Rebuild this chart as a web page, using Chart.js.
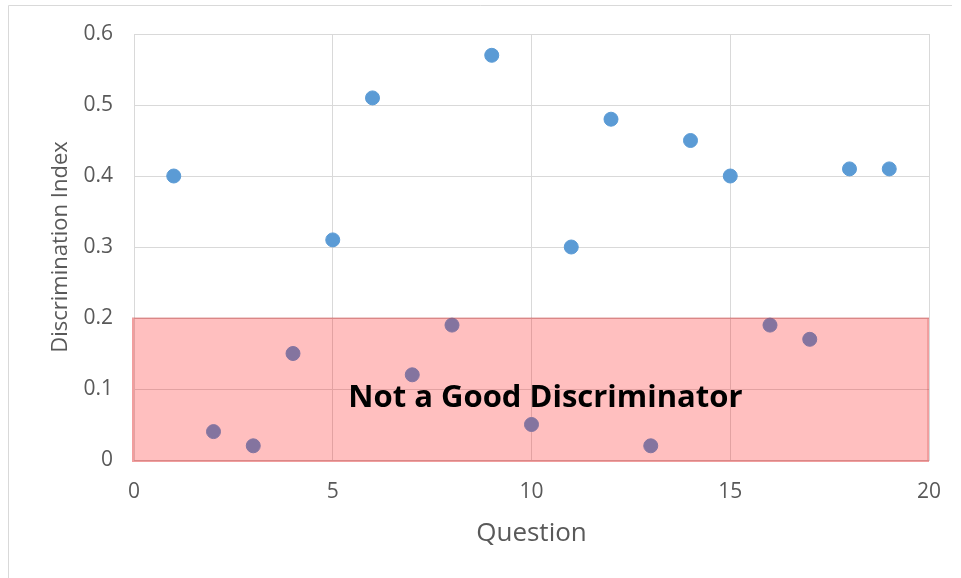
<!DOCTYPE html>
<html>
<head>
<meta charset="utf-8">
<script src="https://cdn.jsdelivr.net/npm/chart.js@4/dist/chart.umd.min.js"></script>
<style>
  html, body { margin: 0; padding: 0; background: #fff; }
  #wrap { width: 961px; height: 578px; position: relative; }
</style>
</head>
<body>
<div id="wrap"><canvas id="c" width="961" height="578"></canvas></div>
<script>
// Question number and its discrimination index
const questions = [1, 2, 3, 4, 5, 6, 7, 8, 9, 10, 11, 12, 13, 14, 15, 16, 17, 18, 19];
const discrimination = [0.40, 0.04, 0.02, 0.15, 0.31, 0.51, 0.12, 0.19, 0.57, 0.05, 0.30, 0.48, 0.02, 0.45, 0.40, 0.19, 0.17, 0.41, 0.41];

// Band of weak discriminators
const weakBand = { xMin: 0, xMax: 20, yMin: 0, yMax: 0.2 };
const weakLabel = 'Not a Good Discriminator';

const points = questions.map((q, i) => ({ x: q, y: discrimination[i] }));

const FONT = '"Open Sans", "Noto Sans", "DejaVu Sans", sans-serif';
const GRID = '#D9D9D9';

// Light frame around the chart
const framePlugin = {
  id: 'frame',
  beforeDraw(chart) {
    const ctx = chart.ctx;
    ctx.save();
    ctx.strokeStyle = GRID;
    ctx.lineWidth = 1;
    ctx.beginPath();
    ctx.moveTo(8.5, chart.height);
    ctx.lineTo(8.5, 5.5);
    ctx.lineTo(952, 5.5);
    ctx.stroke();
    ctx.restore();
  }
};

// Translucent red band drawn over the points, with its caption
const bandPlugin = {
  id: 'band',
  afterDatasetsDraw(chart) {
    const { ctx, scales: { x, y } } = chart;
    const left = x.getPixelForValue(weakBand.xMin);
    const right = x.getPixelForValue(weakBand.xMax);
    const top = y.getPixelForValue(weakBand.yMax);
    const bottom = y.getPixelForValue(weakBand.yMin);
    ctx.save();
    ctx.fillStyle = 'rgba(255, 0, 0, 0.25)';
    ctx.fillRect(left - 2, top, right - left + 2, bottom - top + 2);
    ctx.strokeStyle = 'rgba(190, 40, 40, 0.22)';
    ctx.lineWidth = 2;
    ctx.strokeRect(left - 1, top, right - left, bottom - top + 1);
    ctx.fillStyle = '#000';
    ctx.font = 'bold 31px ' + FONT;
    ctx.textAlign = 'center';
    ctx.textBaseline = 'middle';
    ctx.fillText(weakLabel, x.getPixelForValue(10.35), y.getPixelForValue(0.087));
    ctx.restore();
  }
};

new Chart(document.getElementById('c'), {
  type: 'scatter',
  data: {
    datasets: [{
      label: 'Discrimination Index',
      data: points,
      backgroundColor: '#5B9BD5',
      borderColor: '#5B9BD5',
      pointRadius: 7,
      pointHoverRadius: 7
    }]
  },
  options: {
    responsive: false,
    animation: false,
    layout: { padding: { top: 34, right: 32, bottom: 29, left: 48 } },
    plugins: {
      legend: { display: false },
      tooltip: { enabled: false }
    },
    scales: {
      x: {
        type: 'linear',
        min: 0,
        max: 20,
        ticks: { stepSize: 5, color: '#595959', font: { family: FONT, size: 21 }, padding: 19 },
        grid: { color: GRID, lineWidth: 1, drawTicks: false },
        border: { color: GRID },
        title: { display: true, text: 'Question', color: '#595959', font: { family: FONT, size: 26 }, padding: 0 },
        afterFit(scale) { scale.height = 89; }
      },
      y: {
        type: 'linear',
        min: 0,
        max: 0.6,
        ticks: {
          stepSize: 0.1,
          color: '#595959',
          font: { family: FONT, size: 21 },
          padding: 21,
          callback: v => (Math.round(v * 10) / 10).toString()
        },
        grid: { color: GRID, lineWidth: 1, drawTicks: false },
        border: { color: GRID },
        title: { display: true, text: 'Discrimination Index', color: '#595959', font: { family: FONT, size: 22 }, padding: 0 },
        afterFit(scale) { scale.width = 86; }
      }
    }
  },
  plugins: [framePlugin, bandPlugin]
});
</script>
</body>
</html>
